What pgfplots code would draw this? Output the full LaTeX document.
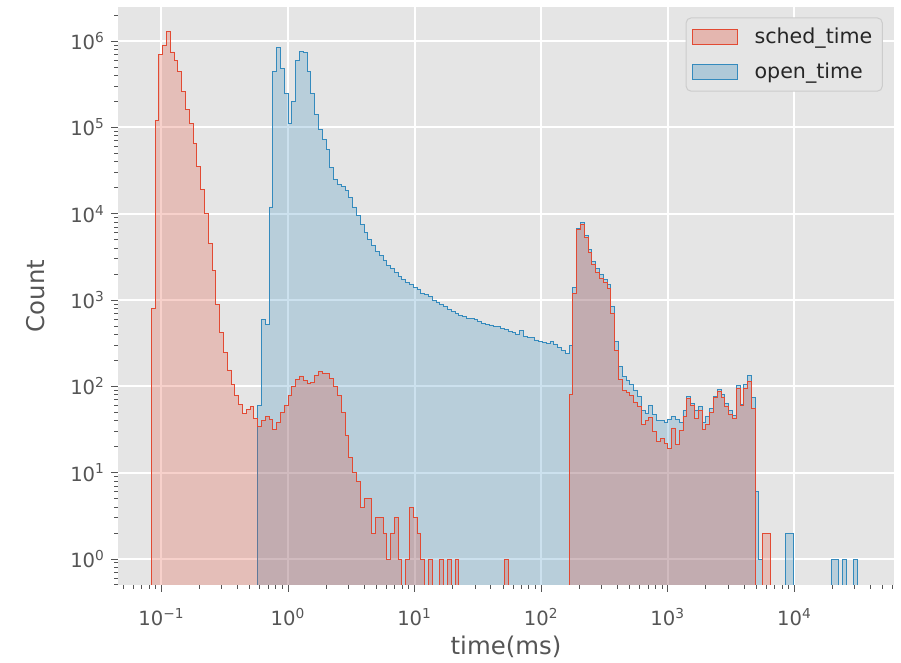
\documentclass[border=0pt]{standalone}
\usepackage{fontspec}
\setmainfont{DejaVu Sans}
\usepackage{pgfplots}
\usepackage{pgfplotstable}
\pgfplotsset{compat=1.18}

\definecolor{ggbg}{HTML}{E5E5E5}
\definecolor{ggred}{HTML}{E24A33}
\definecolor{ggblue}{HTML}{348ABD}
\definecolor{ggtext}{HTML}{555555}

\newcommand{\dec}[1]{10\textsuperscript{#1}}

% histogram bins, 0.03 decade wide; lx = log10(left bin edge in ms), n = count
% (0.01 stands for an empty bin, it lies below the axis)
\pgfplotstableread{
lx n
-1.08 0.01
-1.08 800
-1.05 1.2e5
-1.02 7e5
-0.99 9e5
-0.96 1.3e6
-0.93 7.5e5
-0.90 6.0e5
-0.87 4.5e5
-0.84 2.6e5
-0.81 1.6e5
-0.78 1.1e5
-0.75 6.6e4
-0.72 3.5e4
-0.69 1.9e4
-0.66 1.0e4
-0.63 4500
-0.60 2200
-0.57 900
-0.54 420
-0.51 250
-0.48 155
-0.45 105
-0.42 78
-0.39 62
-0.36 48
-0.33 54
-0.30 58
-0.27 42
-0.24 34
-0.21 40
-0.18 45
-0.15 41
-0.12 32
-0.09 38
-0.06 50
-0.03 60
0.00 78
0.03 100
0.06 120
0.09 132
0.12 118
0.15 108
0.18 112
0.21 135
0.24 148
0.27 143
0.30 140
0.33 125
0.36 100
0.39 78
0.42 50
0.45 27
0.48 15
0.51 10
0.54 8
0.57 4
0.60 5
0.63 5
0.66 2
0.69 3
0.72 3
0.75 2
0.78 1
0.81 2
0.84 3
0.87 1
0.90 0.01
0.93 1
0.96 4
0.99 3
1.02 2
1.05 1
1.08 0.01
1.11 1
1.14 0.01
1.20 1
1.23 0.01
1.26 1
1.29 0.01
1.32 1
1.35 0.01
1.71 1
1.74 0.01
2.22 80
2.25 1200
2.28 6500
2.31 7600
2.34 5300
2.37 3600
2.40 2600
2.43 2100
2.46 1800
2.49 1600
2.52 1350
2.55 700
2.58 260
2.61 120
2.64 90
2.67 86
2.70 78
2.73 66
2.76 58
2.79 36
2.82 40
2.85 44
2.88 30
2.91 23
2.94 25
2.97 22
3.00 19
3.03 33
3.06 21
3.09 31
3.12 45
3.15 72
3.18 60
3.21 42
3.24 52
3.27 32
3.30 36
3.33 50
3.36 74
3.39 88
3.42 75
3.45 58
3.48 47
3.51 42
3.54 95
3.57 60
3.60 95
3.63 115
3.66 55
3.69 0.01
3.75 2
3.81 0.01
}\schedtab

\pgfplotstableread{
lx n
-0.24 0.01
-0.24 60
-0.21 600
-0.18 520
-0.15 1.2e4
-0.12 4.5e5
-0.09 8.5e5
-0.06 4.8e5
-0.03 2.5e5
0.00 1.1e5
0.03 2.0e5
0.06 6.0e5
0.09 7.6e5
0.12 7.4e5
0.15 4.5e5
0.18 2.5e5
0.21 1.4e5
0.24 9.5e4
0.27 7.2e4
0.30 5.5e4
0.33 3.4e4
0.36 2.5e4
0.39 2.2e4
0.42 2.05e4
0.45 1.85e4
0.48 1.55e4
0.51 1.2e4
0.54 9500
0.57 7500
0.60 6000
0.63 5000
0.66 4300
0.69 3700
0.72 3300
0.75 2900
0.78 2550
0.81 2300
0.84 2100
0.87 1900
0.90 1750
0.93 1600
0.96 1500
0.99 1400
1.02 1320
1.05 1200
1.08 1150
1.11 1100
1.14 1000
1.17 950
1.20 890
1.23 840
1.26 780
1.29 730
1.32 700
1.35 660
1.38 640
1.41 615
1.44 620
1.47 590
1.50 560
1.53 535
1.56 525
1.59 515
1.62 500
1.65 490
1.68 470
1.71 455
1.74 430
1.77 420
1.80 405
1.83 450
1.86 380
1.89 370
1.92 365
1.95 345
1.98 330
2.01 325
2.04 315
2.07 335
2.10 310
2.13 285
2.16 260
2.19 240
2.22 300
2.25 1400
2.28 6800
2.31 7900
2.34 5600
2.37 3850
2.40 2800
2.43 2300
2.46 2000
2.49 1750
2.52 1500
2.55 850
2.58 330
2.61 170
2.64 130
2.67 118
2.70 105
2.73 90
2.76 76
2.79 53
2.82 49
2.85 60
2.88 47
2.91 40
2.94 40
2.97 38
3.00 41
3.03 45
3.06 41
3.09 38
3.12 52
3.15 76
3.18 64
3.21 53
3.24 58
3.27 38
3.30 45
3.33 55
3.36 76
3.39 92
3.42 80
3.45 64
3.48 53
3.51 46
3.54 102
3.57 62
3.60 105
3.63 135
3.66 75
3.69 6
3.72 1
3.75 0.01
3.93 2
3.99 0.01
4.29 1
4.35 0.01
4.38 1
4.41 0.01
4.47 1
4.50 0.01
}\opentab

\begin{document}
\begin{tikzpicture}
\begin{axis}[
    scale only axis,
    width=388pt, height=289pt,
    xmode=log, ymode=log,
    xmin=0.0454, xmax=61200,
    ymin=0.5, ymax=2.49e6,
    axis background/.style={fill=ggbg},
    axis line style={draw=none},
    grid=major,
    major grid style={white, line width=1pt},
    tick pos=left, tick align=outside,
    major tick length=3.5pt, minor tick length=2pt,
    tick style={ggtext, line width=0.5pt},
    xtick={0.1,1,10,100,1000,10000},
    xticklabels={\dec{−1},\dec{0},\dec{1},\dec{2},\dec{3},\dec{4}},
    ytick={1,10,100,1000,10000,100000,1000000},
    yticklabels={\dec{0},\dec{1},\dec{2},\dec{3},\dec{4},\dec{5},\dec{6}},
    minor xtick={0.05,0.06,0.07,0.08,0.09,0.2,0.3,0.4,0.5,0.6,0.7,0.8,0.9,
        2,3,4,5,6,7,8,9,20,30,40,50,60,70,80,90,200,300,400,500,600,700,800,900,
        2000,3000,4000,5000,6000,7000,8000,9000,2e4,3e4,4e4,5e4,6e4},
    minor ytick={0.5,0.6,0.7,0.8,0.9,2,3,4,5,6,7,8,9,20,30,40,50,60,70,80,90,
        200,300,400,500,600,700,800,900,2000,3000,4000,5000,6000,7000,8000,9000,
        2e4,3e4,4e4,5e4,6e4,7e4,8e4,9e4,2e5,3e5,4e5,5e5,6e5,7e5,8e5,9e5,2e6},
    ticklabel style={font=\fontsize{9.8}{12}\selectfont, text=ggtext},
    xticklabel style={yshift=-4.5pt},
    yticklabel style={xshift=0.5pt},
    xlabel={time(ms)}, ylabel={Count},
    every axis x label/.style={at={(axis description cs:0.5,0)}, yshift=-35pt, anchor=base,
        font=\fontsize{12.2}{14}\selectfont, text=ggtext},
    every axis y label/.style={at={(axis description cs:0,0.5)}, xshift=-36.5pt, rotate=90, anchor=base,
        font=\fontsize{12.2}{14}\selectfont, text=ggtext},
    legend style={at={(1,1)}, anchor=north east, xshift=-5.6pt, yshift=-5.2pt,
        fill=ggbg, draw=black!20, line width=0.5pt, rounded corners=2.5pt,
        font=\fontsize{10.3}{12}\selectfont, text=black!85,
        inner xsep=3pt, inner ysep=3pt, row sep=4pt},
    legend cell align=left,
    legend image code/.code={\draw[sharp corners, #1] (0pt,-3.85pt) rectangle (22.5pt,3.85pt);
        \path[draw=none, fill=none] (0pt,0pt) -- (29pt,0pt);},
]
\addplot[const plot, draw=ggblue, line width=0.45pt, fill=ggblue, fill opacity=0.25, forget plot]
    table[x expr=10^\thisrow{lx}, y=n] {\opentab} -- cycle;
\addplot[const plot, draw=ggred, line width=0.45pt, fill=ggred, fill opacity=0.25, forget plot]
    table[x expr=10^\thisrow{lx}, y=n] {\schedtab} -- cycle;
\addlegendimage{draw=ggred, fill=ggred, fill opacity=0.3, line width=0.45pt}
\addlegendentry{sched\_time}
\addlegendimage{draw=ggblue, fill=ggblue, fill opacity=0.3, line width=0.45pt}
\addlegendentry{open\_time}
\end{axis}
\pgfresetboundingbox
\path[use as bounding box] (-59pt,-39pt) rectangle (391.5pt,292.5pt);
\end{tikzpicture}
\end{document}
